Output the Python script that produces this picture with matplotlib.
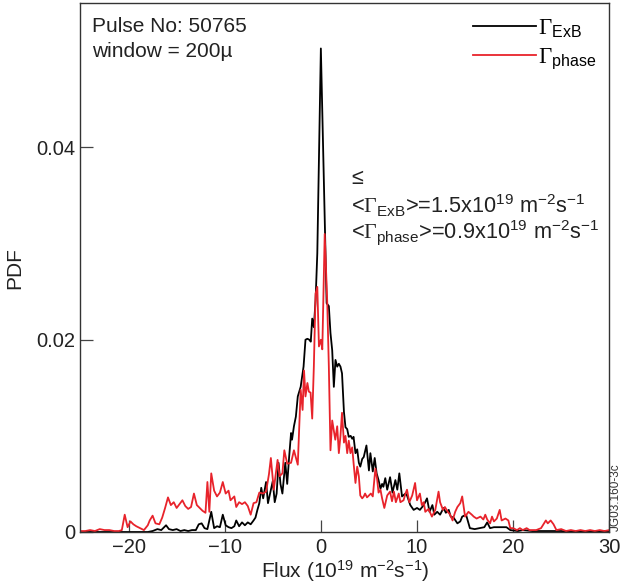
import numpy as np
import matplotlib
import matplotlib.pyplot as plt

matplotlib.use('Agg')

plt.rcParams['font.family'] = ['Liberation Sans', 'DejaVu Sans']
plt.rcParams['mathtext.fontset'] = 'custom'
plt.rcParams['mathtext.rm'] = 'Liberation Serif'
plt.rcParams['mathtext.default'] = 'regular'

# PDF of the ExB flux
flux_exb = [-25, -24, -23, -22, -21, -20, -19, -18, -17.5, -17.0,
            -16.6, -16.1, -15.8, -15.4, -15.0, -14.6, -14.2, -13.8, -13.4, -13.0,
            -12.7, -12.4, -12.1, -11.8, -11.4, -11.1, -10.8, -10.5, -10.2, -9.9,
            -9.6, -9.3, -9.0, -8.8, -8.5, -8.2, -7.9, -7.6, -7.3, -7.0,
            -6.8, -6.6, -6.4, -6.2, -6.0, -5.7, -5.5, -5.2, -5.0, -4.8,
            -4.6, -4.4, -4.2, -4.0, -3.7, -3.5, -3.3, -3.1, -3.0, -2.8,
            -2.6, -2.4, -2.1, -1.8, -1.6, -1.4, -1.2, -1.05, -0.9, -0.73,
            -0.55, -0.37, 0.0, 0.6, 0.83, 1.0, 1.18, 1.35, 1.52, 1.7,
            1.87, 2.04, 2.2, 2.4, 2.56, 2.74, 2.9, 3.1, 3.26, 3.4,
            3.6, 3.78, 3.95, 4.1, 4.3, 4.46, 4.74, 5.0, 5.15, 5.4,
            5.6, 5.8, 6.0, 6.2, 6.37, 6.5, 6.7, 6.9, 7.2, 7.45,
            7.75, 7.95, 8.16, 8.44, 8.8, 8.96, 9.3, 9.65, 10.0, 10.3,
            10.7, 11.04, 11.3, 11.6, 11.8, 12.1, 12.4, 12.76, 13.0, 13.3,
            13.5, 13.8, 14.2, 14.5, 14.7, 15.1, 15.5, 16.0, 16.5, 17.0,
            17.3, 17.6, 18.0, 18.6, 19.3, 19.7, 20.5, 21, 22, 23,
            24, 25, 26, 27, 28, 29, 30]
pdf_exb = [0, 0, 0, 0, 0, 0, 0, 0, 0.0001, 0.0003,
           0.0002, 0.0007, 0.0003, 0.0002, 0.0003, 0.0001, 0.0002, 0.0001, 0.0002, 0.0002,
           0.0008, 0.0009, 0.0004, 0.0003, 0.0021, 0.0004, 0.0006, 0.0005, 0.0018, 0.0007,
           0.0005, 0.0004, 0.0006, 0.0012, 0.0006, 0.0010, 0.0007, 0.0010, 0.0008, 0.0012,
           0.0015, 0.0023, 0.0030, 0.0046, 0.0035, 0.0052, 0.0030, 0.0044, 0.0053, 0.0031,
           0.0040, 0.0072, 0.0050, 0.0040, 0.0072, 0.0050, 0.0078, 0.0103, 0.0096, 0.0110,
           0.0120, 0.0141, 0.0151, 0.0172, 0.0200, 0.0201, 0.0200, 0.0198, 0.0222, 0.0213,
           0.0241, 0.0290, 0.0503, 0.0238, 0.0235, 0.0207, 0.0189, 0.0151, 0.0179, 0.0172,
           0.0175, 0.0172, 0.0165, 0.0125, 0.0109, 0.0107, 0.0099, 0.0100, 0.0097, 0.0099,
           0.0082, 0.0086, 0.0072, 0.0068, 0.0076, 0.0078, 0.0090, 0.0064, 0.0082, 0.0063,
           0.0077, 0.0061, 0.0054, 0.0045, 0.0050, 0.0047, 0.0056, 0.0044, 0.0057, 0.0041,
           0.0054, 0.0044, 0.0061, 0.0037, 0.0040, 0.0038, 0.0028, 0.0023, 0.0025, 0.0023,
           0.0028, 0.0035, 0.0021, 0.0028, 0.0018, 0.0021, 0.0018, 0.0025, 0.0020, 0.0023,
           0.0016, 0.0015, 0.0009, 0.0011, 0.0016, 0.0018, 0.0004, 0.0003, 0.0004, 0.0005,
           0.0010, 0.0004, 0.0005, 0.0005, 0.0005, 0.0002, 0.0001, 0.0002, 0.0001, 0.0001,
           0.0001, 0.0001, 0, 0.0001, 0, 0.0001, 0.0001]

# PDF of the phase-derived flux
flux_phase = [-25, -24.5, -24, -23.5, -23, -22.5, -22, -21.5, -21, -20.7,
              -20.4, -20.1, -19.8, -19.5, -19.2, -18.8, -18.4, -18.0, -17.8, -17.5,
              -17.2, -16.8, -16.5, -16.2, -15.9, -15.6, -15.3, -15.0, -14.7, -14.4,
              -14.1, -13.8, -13.5, -13.2, -12.9, -12.6, -12.3, -12.0, -11.8, -11.6,
              -11.4, -11.1, -10.8, -10.5, -10.2, -9.9, -9.6, -9.4, -9.0, -8.8,
              -8.5, -8.2, -7.9, -7.6, -7.3, -7.0, -6.7, -6.4, -6.0, -5.7,
              -5.4, -5.2, -4.9, -4.5, -4.3, -4.0, -3.8, -3.5, -3.1, -2.8,
              -2.4, -2.1, -1.9, -1.75, -1.6, -1.4, -1.25, -1.07, -0.9, -0.73,
              -0.55, -0.37, -0.2, 0.0, 0.15, 0.4, 0.66, 0.83, 1.0, 1.18,
              1.35, 1.5, 1.7, 1.87, 2.04, 2.2, 2.4, 2.56, 2.74, 2.9,
              3.08, 3.26, 3.4, 3.6, 3.78, 3.95, 4.1, 4.3, 4.46, 4.6,
              4.8, 5.0, 5.2, 5.4, 5.67, 5.85, 6.0, 6.2, 6.37, 6.6,
              6.9, 7.2, 7.4, 7.6, 7.8, 8.1, 8.27, 8.6, 8.8, 8.96,
              9.2, 9.5, 9.8, 10.0, 10.3, 10.5, 10.7, 10.86, 11.2, 11.55,
              11.9, 12.24, 12.4, 12.7, 12.9, 13.2, 13.45, 13.7, 13.97, 14.2,
              14.5, 14.7, 15.0, 15.35, 15.7, 15.9, 16.2, 16.6, 16.9, 17.1,
              17.3, 17.6, 17.8, 18.0, 18.3, 18.6, 18.8, 19.2, 19.5, 19.7,
              20.0, 20.4, 20.7, 21.0, 21.4, 21.7, 22.0, 22.4, 22.9, 23.4,
              23.6, 23.9, 24.2, 24.5, 25, 25.5, 26, 26.5, 27, 27.5,
              28, 28.5, 29, 29.5, 30]
pdf_phase = [0.0001, 0.0001, 0.0002, 0.0001, 0.0003, 0.0002, 0.0002, 0.0001, 0.0001, 0.0002,
             0.0018, 0.0005, 0.0011, 0.0008, 0.0006, 0.0004, 0.0002, 0.0007, 0.0012, 0.0017,
             0.0009, 0.0008, 0.0015, 0.0025, 0.0036, 0.0028, 0.0031, 0.0025, 0.0029, 0.0033,
             0.0027, 0.0024, 0.0026, 0.0040, 0.0028, 0.0025, 0.0022, 0.0020, 0.0052, 0.0021,
             0.0061, 0.0043, 0.0037, 0.0041, 0.0052, 0.0040, 0.0043, 0.0033, 0.0037, 0.0026,
             0.0031, 0.0029, 0.0031, 0.0027, 0.0018, 0.0030, 0.0031, 0.0041, 0.0040, 0.0042,
             0.0060, 0.0077, 0.0044, 0.0075, 0.0058, 0.0061, 0.0085, 0.0071, 0.0072, 0.0085,
             0.0070, 0.0148, 0.0127, 0.0168, 0.0141, 0.0155, 0.0146, 0.0145, 0.0118, 0.0172,
             0.0248, 0.0255, 0.0193, 0.0200, 0.0190, 0.0310, 0.0240, 0.0172, 0.0085, 0.0116,
             0.0105, 0.0096, 0.0110, 0.0082, 0.0100, 0.0124, 0.0093, 0.0100, 0.0082, 0.0095,
             0.0082, 0.0088, 0.0072, 0.0051, 0.0068, 0.0058, 0.0038, 0.0035, 0.0037, 0.0040,
             0.0036, 0.0038, 0.0040, 0.0037, 0.0066, 0.0055, 0.0041, 0.0044, 0.0035, 0.0025,
             0.0038, 0.0042, 0.0032, 0.0042, 0.0031, 0.0040, 0.0031, 0.0033, 0.0040, 0.0044,
             0.0031, 0.0038, 0.0051, 0.0033, 0.0040, 0.0028, 0.0031, 0.0021, 0.0024, 0.0016,
             0.0023, 0.0042, 0.0031, 0.0023, 0.0026, 0.0021, 0.0018, 0.0012, 0.0021, 0.0026,
             0.0030, 0.0037, 0.0016, 0.0021, 0.0018, 0.0016, 0.0014, 0.0016, 0.0013, 0.0018,
             0.0013, 0.0009, 0.0016, 0.0011, 0.0014, 0.0023, 0.0012, 0.0014, 0.0012, 0.0004,
             0.0004, 0.0002, 0.0004, 0.0002, 0.0004, 0.0002, 0.0002, 0.0002, 0.0004, 0.0012,
             0.0009, 0.0012, 0.0008, 0.0002, 0.0003, 0.0001, 0.0002, 0.0001, 0.0002, 0.0001,
             0.0002, 0.0001, 0.0002, 0.0001, 0.0002]

x_ticks = [-20, -10, 0, 10, 20, 30]
y_ticks = [0, 0.02, 0.04]
y_ticklabels = ['0', '0.02', '0.04']

fig = plt.figure(figsize=(6.22, 5.87), dpi=100)
ax = fig.add_axes([0.1294, 0.0937, 0.8502, 0.9007])

ax.plot(flux_exb, pdf_exb, color='black', lw=1.3, label=r'$\mathrm{\Gamma}_{ExB}$')
ax.plot(flux_phase, pdf_phase, color='#e8232b', lw=1.3, label=r'$\mathrm{\Gamma}_{phase}$')

ax.set_xlim(-25, 30)
ax.set_ylim(0, 0.055)
ax.set_xticks(x_ticks)
ax.set_yticks(y_ticks)
ax.set_yticklabels(y_ticklabels)
ax.tick_params(direction='in', length=9, width=0.9, color='#444444', labelsize=14.5,
               labelcolor='#222222')
ax.tick_params(axis='x', pad=4)
ax.tick_params(axis='y', pad=4)
for s in ax.spines.values():
    s.set_linewidth(1.0)
    s.set_color('#333333')

ax.set_xlabel(r'Flux (10$^{19}$ m$^{-2}$s$^{-1}$)', fontsize=15, color='#222222', labelpad=1)
ax.set_ylabel('PDF', fontsize=15, color='#222222', labelpad=8)

ax.legend(loc='upper right', bbox_to_anchor=(1.0, 1.0), frameon=False, fontsize=16.5,
          handlelength=2.75, handletextpad=0.12, labelspacing=0.25,
          borderpad=0.2, borderaxespad=0.35)

ax.text(0.0217, 0.945, 'Pulse No: 50765', transform=ax.transAxes, fontsize=15,
        color='#222222', va='baseline')
ax.text(0.0217, 0.899, 'window = 200\u00b5', transform=ax.transAxes, fontsize=15,
        color='#222222', va='baseline')

ax.text(0.512, 0.659, '\u2264', transform=ax.transAxes, fontsize=15.5, color='#222222',
        va='baseline')
ax.text(0.512, 0.602, r'<$\mathrm{\Gamma}_{ExB}$>=1.5x10$^{19}$ m$^{-2}$s$^{-1}$',
        transform=ax.transAxes, fontsize=15.7, color='#222222', va='baseline')
ax.text(0.512, 0.555, r'<$\mathrm{\Gamma}_{phase}$>=0.9x10$^{19}$ m$^{-2}$s$^{-1}$',
        transform=ax.transAxes, fontsize=15.7, color='#222222', va='baseline')

fig.text(0.990, 0.095, 'JG03.160-3c', rotation=90, fontsize=8.5, color='#333333',
         ha='center', va='bottom')

fig.savefig('out.png', dpi=100)
